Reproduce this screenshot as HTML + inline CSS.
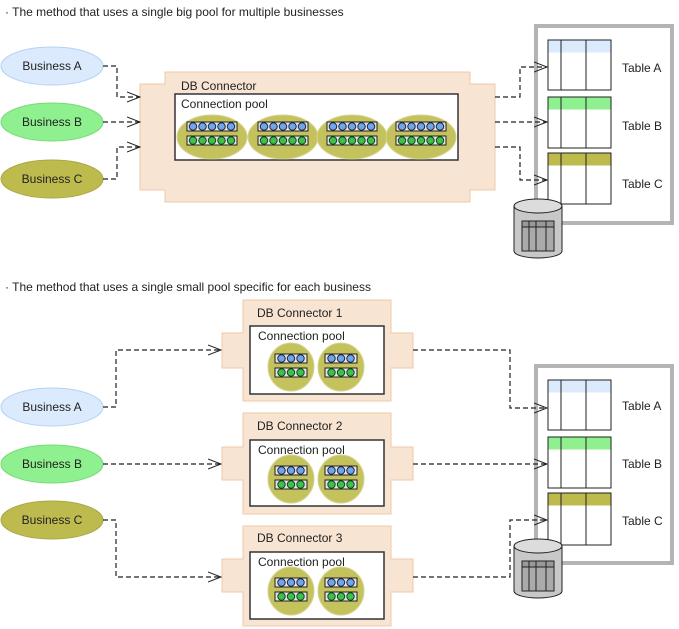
<!DOCTYPE html>
<html><head><meta charset="utf-8"><style>
body{margin:0;background:#fff}
svg{display:block;font-family:"Liberation Sans",sans-serif}
</style></head><body>
<svg width="679" height="629" viewBox="0 0 679 629" xmlns="http://www.w3.org/2000/svg">
<defs>
<g id="b5b"><rect x="0" y="0" width="50" height="9" fill="#e4e4e4" stroke="#222"/><g fill="#6fa8e8" stroke="#224"><circle cx="6" cy="4.5" r="3.7"/><circle cx="15.5" cy="4.5" r="3.7"/><circle cx="25" cy="4.5" r="3.7"/><circle cx="34.5" cy="4.5" r="3.7"/><circle cx="44" cy="4.5" r="3.7"/></g></g>
<g id="b5g"><rect x="0" y="0" width="50" height="9" fill="#e4e4e4" stroke="#222"/><g fill="#3fc04a" stroke="#142"><circle cx="6" cy="4.5" r="3.7"/><circle cx="15.5" cy="4.5" r="3.7"/><circle cx="25" cy="4.5" r="3.7"/><circle cx="34.5" cy="4.5" r="3.7"/><circle cx="44" cy="4.5" r="3.7"/></g></g>
<g id="b3b"><rect x="0" y="0" width="32" height="9" fill="#e4e4e4" stroke="#222"/><g fill="#6fa8e8" stroke="#224"><circle cx="6.5" cy="4.5" r="3.7"/><circle cx="16" cy="4.5" r="3.7"/><circle cx="25.5" cy="4.5" r="3.7"/></g></g>
<g id="b3g"><rect x="0" y="0" width="32" height="9" fill="#e4e4e4" stroke="#222"/><g fill="#3fc04a" stroke="#142"><circle cx="6.5" cy="4.5" r="3.7"/><circle cx="16" cy="4.5" r="3.7"/><circle cx="25.5" cy="4.5" r="3.7"/></g></g>
<g id="pbig"><ellipse cx="0" cy="0" rx="35" ry="22" fill="#c4c25c" stroke="#d6d490"/><use href="#b5b" x="-25" y="-15"/><use href="#b5g" x="-25" y="-1"/></g>
<g id="psm"><ellipse cx="0" cy="0" rx="23" ry="24" fill="#c4c25c" stroke="#d6d490"/><use href="#b3b" x="-16" y="-13"/><use href="#b3g" x="-16" y="1"/></g>
<g id="cyl"><path d="M0,7 L0,52 A24,7 0 0 0 48,52 L48,7" fill="#c8c8c8" stroke="#222"/><ellipse cx="24" cy="7" rx="24" ry="7" fill="#dcdcdc" stroke="#222"/><rect x="8" y="22" width="32" height="30" fill="#aaa" stroke="#222"/><rect x="8" y="22" width="32" height="6" fill="#999" stroke="#222"/><line x1="15" y1="22" x2="15" y2="52" stroke="#222"/><line x1="22" y1="22" x2="22" y2="52" stroke="#222"/><line x1="32" y1="22" x2="32" y2="52" stroke="#222"/></g>
<marker id="ar" markerWidth="14" markerHeight="12" refX="13" refY="6" orient="auto" markerUnits="userSpaceOnUse"><path d="M0,1 L13,6 L0,11" fill="none" stroke="#222" stroke-width="1"/></marker>
</defs>

<text x="5" y="16" font-size="12" fill="#222">· The method that uses a single big pool for multiple businesses</text>
<text x="5" y="291" font-size="12" fill="#222">· The method that uses a single small pool specific for each business</text>

<g font-size="12" fill="#222" text-anchor="middle">
<ellipse cx="52" cy="66" rx="51" ry="19" fill="#dbeafc" stroke="#b3d3f5"/><text x="52" y="70">Business A</text>
<ellipse cx="52" cy="122" rx="51" ry="19" fill="#8ef08e" stroke="#7ad87a"/><text x="52" y="126">Business  B</text>
<ellipse cx="52" cy="179" rx="51" ry="19" fill="#bdbb4e" stroke="#aaa845"/><text x="52" y="183">Business  C</text>
<ellipse cx="52" cy="407" rx="51" ry="19" fill="#dbeafc" stroke="#b3d3f5"/><text x="52" y="411">Business A</text>
<ellipse cx="52" cy="464" rx="51" ry="19" fill="#8ef08e" stroke="#7ad87a"/><text x="52" y="468">Business  B</text>
<ellipse cx="52" cy="520" rx="51" ry="19" fill="#bdbb4e" stroke="#aaa845"/><text x="52" y="524">Business  C</text>
</g>

<!-- top connector -->
<path d="M165,72 H470 V84 H495 V190 H470 V202 H165 V190 H140 V84 H165 Z" fill="#f8e4d2" stroke="#efc9a6"/>
<text x="181" y="90" font-size="12" fill="#222">DB Connector</text>
<rect x="175" y="94" width="283" height="66" fill="#fff" stroke="#333" stroke-width="1.5"/>
<text x="181" y="108" font-size="12" fill="#222">Connection pool</text>
<use href="#pbig" x="212" y="137"/><use href="#pbig" x="283" y="137"/><use href="#pbig" x="352" y="137"/><use href="#pbig" x="421" y="137"/>

<!-- bottom connectors -->
<g font-size="12" fill="#222">
<path d="M243,300 H391 V333 H413 V368 H391 V401 H243 V368 H222 V333 H243 Z" fill="#f8e4d2" stroke="#efc9a6"/>
<text x="257" y="317">DB Connector 1</text>
<rect x="250" y="326" width="134" height="68" fill="#fff" stroke="#333" stroke-width="1.5"/>
<text x="258" y="340">Connection pool</text>
<use href="#psm" x="291" y="367"/><use href="#psm" x="341" y="367"/>

<path d="M243,413 H391 V447 H413 V480 H391 V514 H243 V480 H222 V447 H243 Z" fill="#f8e4d2" stroke="#efc9a6"/>
<text x="257" y="430">DB Connector 2</text>
<rect x="250" y="440" width="134" height="66" fill="#fff" stroke="#333" stroke-width="1.5"/>
<text x="258" y="454">Connection pool</text>
<use href="#psm" x="291" y="479"/><use href="#psm" x="341" y="479"/>

<path d="M243,526 H391 V559 H413 V592 H391 V626 H243 V592 H222 V559 H243 Z" fill="#f8e4d2" stroke="#efc9a6"/>
<text x="257" y="542">DB Connector 3</text>
<rect x="250" y="552" width="134" height="67" fill="#fff" stroke="#333" stroke-width="1.5"/>
<text x="258" y="566">Connection pool</text>
<use href="#psm" x="291" y="591"/><use href="#psm" x="341" y="591"/>
</g>

<!-- table containers -->
<g font-size="12" fill="#222">
<rect x="536" y="26" width="136" height="197" fill="#fff" stroke="#b4b4b4" stroke-width="4"/>
<rect x="548" y="40" width="63" height="50" fill="#fff" stroke="#222"/><rect x="548.5" y="40.5" width="62" height="12" fill="#dbeafc"/>
<rect x="548" y="97" width="63" height="51" fill="#fff" stroke="#222"/><rect x="548.5" y="97.5" width="62" height="12" fill="#8ef08e"/>
<rect x="548" y="153" width="63" height="51" fill="#fff" stroke="#222"/><rect x="548.5" y="153.5" width="62" height="12" fill="#bdbb4e"/>
<path d="M561,40V90M586,40V90M561,97V148M586,97V148M561,153V204M586,153V204" stroke="#222"/>
<text x="622" y="72">Table A</text><text x="622" y="130">Table B</text><text x="622" y="188">Table C</text>
<use href="#cyl" x="514" y="199"/>

<rect x="536" y="366" width="136" height="197" fill="#fff" stroke="#b4b4b4" stroke-width="4"/>
<rect x="548" y="380" width="63" height="50" fill="#fff" stroke="#222"/><rect x="548.5" y="380.5" width="62" height="12" fill="#dbeafc"/>
<rect x="548" y="437" width="63" height="51" fill="#fff" stroke="#222"/><rect x="548.5" y="437.5" width="62" height="12" fill="#8ef08e"/>
<rect x="548" y="493" width="63" height="52" fill="#fff" stroke="#222"/><rect x="548.5" y="493.5" width="62" height="12" fill="#bdbb4e"/>
<path d="M561,380V430M586,380V430M561,437V488M586,437V488M561,493V545M586,493V545" stroke="#222"/>
<text x="622" y="410">Table A</text><text x="622" y="468">Table B</text><text x="622" y="525">Table C</text>
<use href="#cyl" x="514" y="539"/>
</g>

<!-- arrows -->
<g fill="none" stroke="#222" stroke-width="1.2" stroke-dasharray="5,3" marker-end="url(#ar)">
<path d="M103,66 H117 V97 H140"/>
<path d="M103,122 H140"/>
<path d="M103,179 H117 V147 H140"/>
<path d="M495,97 H520 V67 H547"/>
<path d="M495,122 H547"/>
<path d="M495,147 H520 V180 H547"/>
<path d="M103,407 H116 V350 H221"/>
<path d="M103,464 H221"/>
<path d="M103,520 H116 V577 H221"/>
<path d="M413,350 H510 V408 H547"/>
<path d="M413,464 H547"/>
<path d="M413,577 H510 V520 H547"/>
</g>
</svg>
</body></html>
